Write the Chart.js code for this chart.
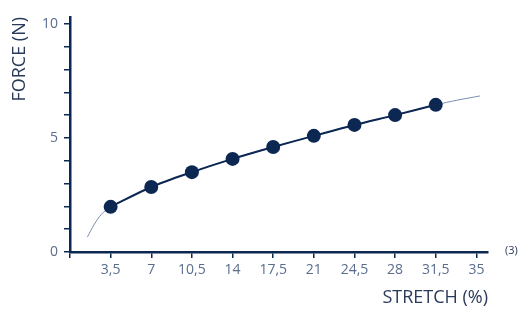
<!DOCTYPE html>
<html>
<head>
<meta charset="utf-8">
<script src="https://cdn.jsdelivr.net/npm/chart.js@4.4.1/dist/chart.umd.min.js"></script>
<style>
  html, body { margin: 0; padding: 0; background: #fff; }
  #wrap { position: relative; width: 521px; height: 313px; }
  #note { position: absolute; left: 505px; top: 242px; font: 11px "Open Sans", sans-serif; color: #2a3a5a; }
</style>
</head>
<body>
<div id="wrap">
  <canvas id="chart" width="521" height="313"></canvas>
  <div id="note">(3)</div>
</div>
<script>
(function () {
  const stretch = [3.5, 7, 10.5, 14, 17.5, 21, 24.5, 28, 31.5];
  const force = [1.98, 2.85, 3.5, 4.08, 4.6, 5.09, 5.57, 6.0, 6.45];
  // thin fitted curve
  const fitX = [1.5, 2.1, 2.7, 3.5, 7, 10.5, 14, 17.5, 21, 24.5, 28, 31.5, 33.4, 35.3];
  const fitY = [0.66, 1.22, 1.65, 1.98, 2.85, 3.5, 4.08, 4.6, 5.09, 5.57, 6.0, 6.45, 6.66, 6.84];
  const xTicks = [0, 3.5, 7, 10.5, 14, 17.5, 21, 24.5, 28, 31.5, 35];
  const yTicks = [0, 1, 2, 3, 4, 5, 6, 7, 8, 9, 10];
  const yLabels = [0, 5, 10];

  const navy = '#0b2752';
  const labelColor = '#5a6d8d';
  const tickFont = { family: '"Liberation Sans Narrow", "Open Sans", sans-serif', size: 14 };

  const ctx = document.getElementById('chart').getContext('2d');
  new Chart(ctx, {
    type: 'scatter',
    data: {
      datasets: [
        {
          data: stretch.map((x, i) => ({ x: x, y: force[i] })),
          showLine: true,
          borderColor: navy,
          borderWidth: 2,
          backgroundColor: navy,
          pointBorderWidth: 0,
          pointRadius: 7,
          pointHoverRadius: 7,
          tension: 0.3
        },
        {
          data: fitX.map((x, i) => ({ x: x, y: fitY[i] })),
          showLine: true,
          borderColor: '#7a8eae',
          borderWidth: 1,
          pointRadius: 0,
          tension: 0.3
        }
      ]
    },
    options: {
      responsive: false,
      animation: false,
      layout: { padding: { top: 17, right: 33, left: 5, bottom: 0 } },
      plugins: { legend: { display: false }, tooltip: { enabled: false } },
      scales: {
        x: {
          type: 'linear',
          min: 0,
          max: 36,
          afterBuildTicks: (s) => { s.ticks = xTicks.map((v) => ({ value: v })); },
          afterFit: (s) => { s.height = 61; },
          border: { color: navy, width: 2.5 },
          grid: { drawOnChartArea: false, drawTicks: true, tickLength: 6, color: navy, lineWidth: 1.5 },
          ticks: {
            color: labelColor,
            font: tickFont,
            padding: 4,
            maxRotation: 0,
            autoSkip: false,
            callback: (v) => (v === 0 ? '' : String(v).replace('.', ','))
          },
          title: {
            display: true,
            text: 'STRETCH (%)',
            align: 'end',
            color: '#2a3a5a',
            font: { family: '"Open Sans", sans-serif', size: 18 },
            padding: { top: 9 }
          }
        },
        y: {
          min: 0,
          max: 10.3,
          afterBuildTicks: (s) => { s.ticks = yTicks.map((v) => ({ value: v })); },
          afterFit: (s) => { s.width = 65; },
          border: { color: navy, width: 2.5 },
          grid: { drawOnChartArea: false, drawTicks: true, tickLength: 6, color: navy, lineWidth: 1.5 },
          ticks: {
            color: labelColor,
            font: tickFont,
            padding: 6,
            autoSkip: false,
            callback: (v) => (yLabels.includes(v) ? String(v) : '')
          },
          title: {
            display: true,
            text: 'FORCE (N)',
            align: 'end',
            color: '#2a3a5a',
            font: { family: '"Open Sans", sans-serif', size: 18 },
            padding: { bottom: 14 }
          }
        }
      }
    }
  });
})();
</script>
</body>
</html>
